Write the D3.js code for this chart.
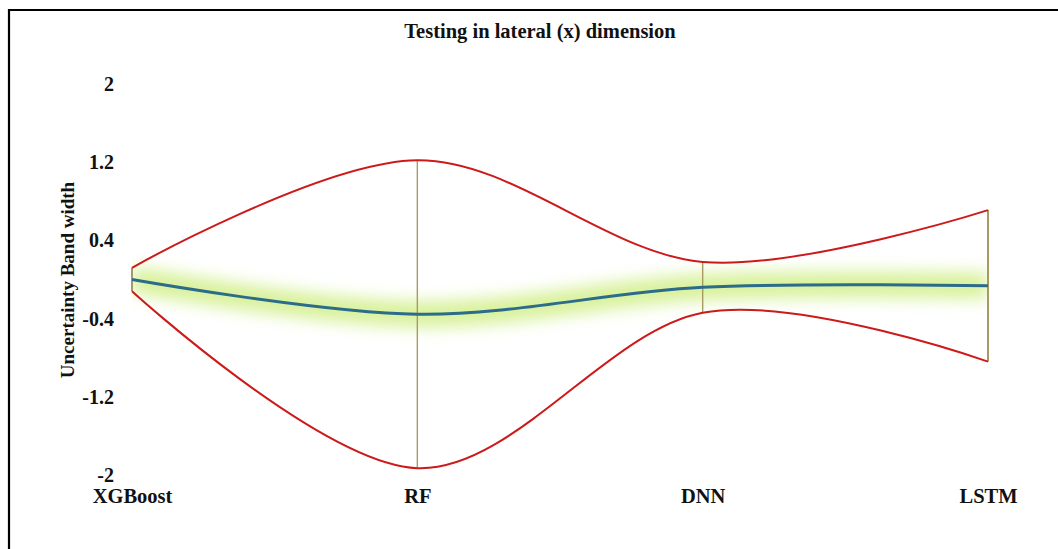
<!DOCTYPE html>
<html>
<head>
<meta charset="utf-8">
<script src="https://cdn.jsdelivr.net/npm/d3@7"></script>
<style>
  html, body { margin: 0; padding: 0; background: #fff; }
  svg { display: block; }
  text { font-family: "Liberation Serif", "Times New Roman", serif; font-weight: bold; fill: #111; }
</style>
</head>
<body>
<svg id="chart" width="1058" height="549"></svg>
<script>
// Models compared and their uncertainty bands (lateral x dimension)
const models = ["XGBoost", "RF", "DNN", "LSTM"];
const upperBound = [0.12, 1.22, 0.18, 0.71];
const lowerBound = [-0.12, -1.93, -0.34, -0.84];
const centerLine = [0.0, -0.355, -0.08, -0.065];
const yTicks = [2, 1.2, 0.4, -0.4, -1.2, -2];
const yTickLabels = ["2", "1.2", "0.4", "-0.4", "-1.2", "-2"];

const W = 1058, H = 549;
const svg = d3.select("#chart");

// outer frame (top and left edges)
svg.append("path")
  .attr("d", "M9,549 V10 H1058")
  .attr("fill", "none")
  .attr("stroke", "#000")
  .attr("stroke-width", 2.2);

const x = d3.scalePoint().domain(models).range([132, 988]);
const y = d3.scaleLinear().domain([-2, 2]).range([475, 84]);

const rows = models.map((m, i) => ({ m, hi: upperBound[i], lo: lowerBound[i], mid: centerLine[i] }));
const curve = d3.curveCatmullRom.alpha(0);

const defs = svg.append("defs");
defs.append("filter").attr("id", "glow")
  .attr("x", "-10%").attr("y", "-200%").attr("width", "120%").attr("height", "500%")
  .append("feGaussianBlur").attr("stdDeviation", 8);
defs.append("clipPath").attr("id", "plotClip")
  .append("rect").attr("x", x(models[0])).attr("y", 0)
  .attr("width", x(models[models.length - 1]) - x(models[0])).attr("height", H);

// title
svg.append("text")
  .attr("x", 540).attr("y", 38)
  .attr("text-anchor", "middle")
  .style("font-size", "20.5px")
  .text("Testing in lateral (x) dimension");

// y axis label
svg.append("text")
  .attr("transform", "translate(74,280) rotate(-90)")
  .attr("text-anchor", "middle")
  .style("font-size", "19px")
  .text("Uncertainty Band width");

// y axis tick labels
const yAxis = d3.axisLeft(y).tickValues(yTicks).tickSize(0).tickPadding(0)
  .tickFormat((d, i) => yTickLabels[i]);
const gy = svg.append("g").attr("transform", "translate(114,0)").call(yAxis);
gy.select(".domain").remove();
gy.selectAll("text").style("font-size", "20px").style("font-family", null).attr("fill", "#111");

// x axis category labels
const xAxis = d3.axisBottom(x).tickSize(0).tickPadding(0);
const gx = svg.append("g").attr("transform", "translate(0,488)").call(xAxis);
gx.select(".domain").remove();
gx.selectAll("text").style("font-size", "20.5px").style("font-family", null).attr("fill", "#111").attr("dy", "0.71em");

// soft green glow under the centre line
const lineMid = d3.line().x(d => x(d.m)).y(d => y(d.mid)).curve(curve);
svg.append("g").attr("clip-path", "url(#plotClip)")
  .append("path")
  .datum(rows)
  .attr("d", lineMid)
  .attr("fill", "none")
  .attr("stroke", "#cdee80")
  .attr("stroke-width", 26)
  .attr("stroke-opacity", 0.8)
  .attr("filter", "url(#glow)");

// vertical range bars at each model
svg.append("g").selectAll("line")
  .data(rows)
  .join("line")
  .attr("x1", d => x(d.m)).attr("x2", d => x(d.m))
  .attr("y1", d => y(d.hi)).attr("y2", d => y(d.lo))
  .attr("stroke", "#a89a62")
  .attr("stroke-width", (d, i) => (i === 0 || i === models.length - 1) ? 2 : 1.4);

// upper and lower bounds
const lineHi = d3.line().x(d => x(d.m)).y(d => y(d.hi)).curve(curve);
const lineLo = d3.line().x(d => x(d.m)).y(d => y(d.lo)).curve(curve);
[lineHi, lineLo].forEach(gen => {
  svg.append("path")
    .datum(rows)
    .attr("d", gen)
    .attr("fill", "none")
    .attr("stroke", "#cc1a1a")
    .attr("stroke-width", 2);
});

// centre line
svg.append("path")
  .datum(rows)
  .attr("d", lineMid)
  .attr("fill", "none")
  .attr("stroke", "#2c6b89")
  .attr("stroke-width", 3);
</script>
</body>
</html>
